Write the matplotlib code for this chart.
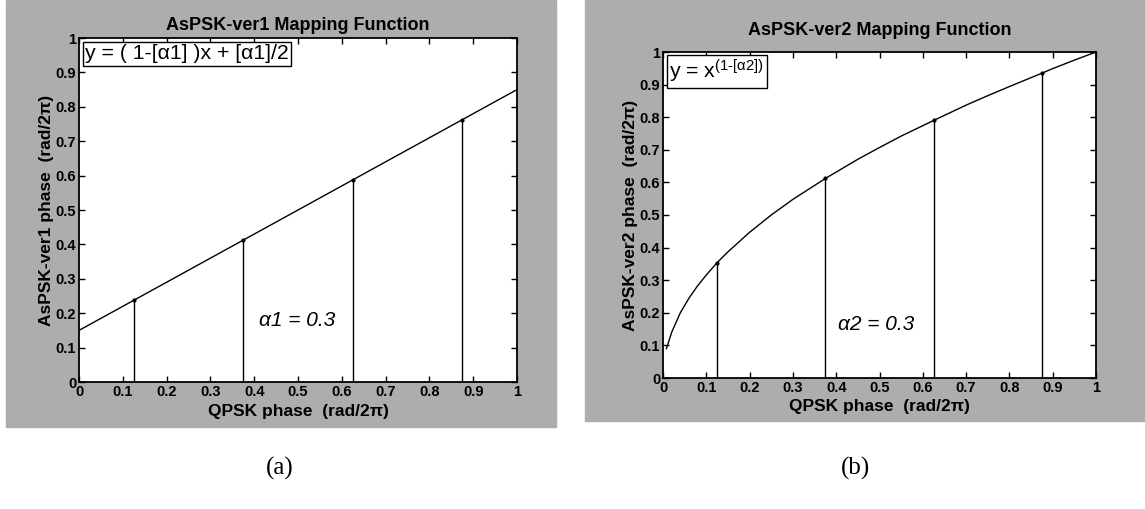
import numpy as np
import matplotlib
matplotlib.use("Agg")
import matplotlib.pyplot as plt
from matplotlib.patches import Rectangle

plt.rcParams['font.family'] = ['Liberation Sans', 'DejaVu Sans']
plt.rcParams['mathtext.fontset'] = 'custom'
plt.rcParams['mathtext.rm'] = 'Liberation Sans'
plt.rcParams['mathtext.it'] = 'Liberation Sans:italic'

# data
qpsk_pts = [0.125, 0.375, 0.625, 0.875]

# (a) straight line mapping, alpha1 = 0.3
line1_x = [0.0, 1.0]
line1_y = [0.15, 0.85]
stem1_y = [0.2375, 0.4125, 0.5875, 0.7625]

# (b) curved mapping, alpha2 = 0.3
curve2_x = [0.008, 0.02, 0.04, 0.06, 0.08, 0.1, 0.125, 0.15, 0.2, 0.25, 0.3, 0.375,
            0.45, 0.5, 0.55, 0.625, 0.7, 0.75, 0.8, 0.875, 0.9, 0.95, 1.0]
curve2_y = [0.09, 0.14, 0.2, 0.245, 0.283, 0.316, 0.354, 0.387, 0.447, 0.5, 0.548, 0.612,
            0.671, 0.707, 0.742, 0.79, 0.837, 0.866, 0.894, 0.935, 0.949, 0.975, 1.0]
stem2_y = [0.354, 0.612, 0.79, 0.935]

ticks = [0, 0.1, 0.2, 0.3, 0.4, 0.5, 0.6, 0.7, 0.8, 0.9, 1]
tick_labels = ['0', '0.1', '0.2', '0.3', '0.4', '0.5', '0.6', '0.7', '0.8', '0.9', '1']

W, H = 1145, 509
fig = plt.figure(figsize=(W / 100, H / 100), dpi=100)
fig.patch.set_facecolor('white')

# grey scanned backgrounds (behind the axes)
bg = '#adadad'
fig.patches.append(Rectangle((6 / W, 1 - 427 / H), 550 / W, 427 / H,
                             transform=fig.transFigure, color=bg, zorder=-10))
fig.patches.append(Rectangle((585 / W, 1 - 421 / H), 560 / W, 421 / H,
                             transform=fig.transFigure, color=bg, zorder=-10))


def px_axes(l, t, r, b):
    return fig.add_axes([l / W, 1 - b / H, (r - l) / W, (b - t) / H])


def style(ax, title, ylabel, tpad, xpad):
    ax.set_xlim(0, 1)
    ax.set_ylim(0, 1)
    ax.set_facecolor('white')
    ax.set_xticks(ticks)
    ax.set_yticks(ticks)
    ax.set_xticklabels(tick_labels, fontsize=10.5, fontweight='bold')
    ax.set_yticklabels(tick_labels, fontsize=10.5, fontweight='bold')
    ax.tick_params(direction='in', top=True, right=True, length=4, width=1, pad=2)
    for s in ax.spines.values():
        s.set_linewidth(1.3)
    ax.set_title(title, fontsize=13, fontweight='bold', pad=tpad)
    ax.set_xlabel('QPSK phase  (rad/2\u03c0)', fontsize=12.5, fontweight='bold', labelpad=xpad)
    ax.set_ylabel(ylabel, fontsize=12.5, fontweight='bold', labelpad=1)


# (a)
ax1 = px_axes(79, 38, 517, 382)
ax1.plot(line1_x, line1_y, color='black', lw=1)
ax1.vlines(qpsk_pts, 0, stem1_y, color='black', lw=1)
ax1.plot(qpsk_pts, stem1_y, 'k.', ms=4)
style(ax1, 'AsPSK-ver1 Mapping Function', 'AsPSK-ver1 phase  (rad/2\u03c0)', 6, 4)
ax1.text(0.014, 0.982, 'y = ( 1-[\u03b11] )x + [\u03b11]/2', transform=ax1.transAxes,
         fontsize=15.3, va='top', ha='left',
         bbox=dict(boxstyle='square,pad=0.12', fc='white', ec='black', lw=1))
ax1.text(0.41, 0.18, '\u03b11 = 0.3', fontsize=15, style='italic', va='center')

# (b)
ax2 = px_axes(663, 52, 1096, 378)
ax2.plot(curve2_x, curve2_y, color='black', lw=1)
ax2.vlines(qpsk_pts, 0, stem2_y, color='black', lw=1)
ax2.plot(qpsk_pts, stem2_y, 'k.', ms=4)
style(ax2, 'AsPSK-ver2 Mapping Function', 'AsPSK-ver2 phase  (rad/2\u03c0)', 12, 3)
ax2.text(0.014, 0.982, 'y = x$^{\\mathregular{(1\u2010[\u03b12])}}$', transform=ax2.transAxes,
         fontsize=15.3, va='top', ha='left',
         bbox=dict(boxstyle='square,pad=0.12', fc='white', ec='black', lw=1))
ax2.text(0.405, 0.165, '\u03b12 = 0.3', fontsize=15, style='italic', va='center')

fig.text(280 / W, 1 - 468 / H, '(a)', fontsize=18, family='Liberation Serif',
         ha='center', va='center')
fig.text(856 / W, 1 - 468 / H, '(b)', fontsize=18, family='Liberation Serif',
         ha='center', va='center')

fig.savefig('out.png', dpi=100)
